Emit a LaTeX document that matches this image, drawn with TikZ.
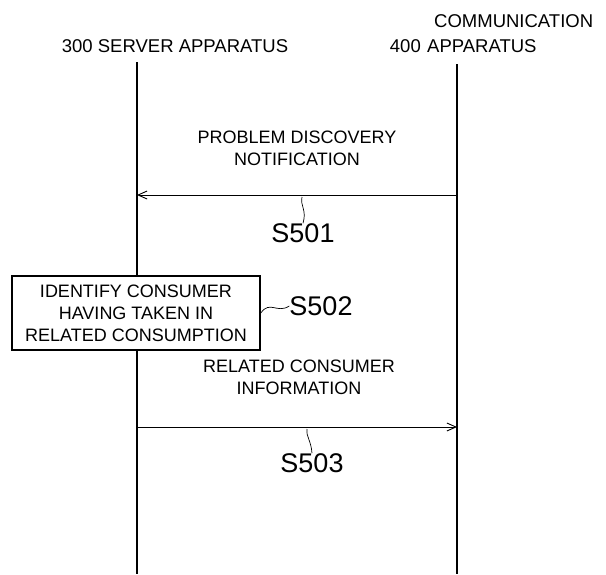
\documentclass[tikz,border=0pt]{standalone}
\usepackage{fontspec}
\setmainfont{Liberation Sans}
\usetikzlibrary{arrows.meta}
\begin{document}
\begin{tikzpicture}[x=1pt,y=-1pt,
  lbl/.style={font=\fontsize{18}{22}\selectfont, inner sep=0pt, align=center},
  hdr/.style={font=\fontsize{18.5}{22}\selectfont, inner sep=0pt},
  steplbl/.style={font=\fontsize{27}{30}\selectfont, inner sep=0pt},
  lifeline/.style={line width=1.8pt},
  msg/.style={line width=0.9pt, -{Straight Barb[length=9pt,width=8pt,line width=0.9pt]}},
  leader/.style={line width=0.7pt},
  procbox/.style={draw, line width=1.6pt, fill=white, lbl, minimum width=248pt, minimum height=74pt}]
\useasboundingbox (0,0) rectangle (606,574);

% column headers
\node[hdr, anchor=base] (srv) at (175,52) {300 SERVER APPARATUS};
\node[hdr, anchor=base east] (n400) at (421,52) {400};
\node[hdr, anchor=base west] (comm2) at (427,52) {APPARATUS};
\node[hdr, anchor=base west] (comm1) at (434,27) {COMMUNICATION};

% lifelines
\coordinate (s-top) at (137,62);
\coordinate (s-bot) at (137,574);
\coordinate (c-top) at (457,64);
\coordinate (c-bot) at (457,574);
\draw[lifeline] (s-top) -- (s-bot);
\draw[lifeline] (c-top) -- (c-bot);

% S501: problem discovery notification
\coordinate (a1s) at (457,195);
\coordinate (a1e) at (137,195);
\draw[msg] (a1s) -- (a1e);
\node[lbl, anchor=base] (m1) at (297,165) {PROBLEM DISCOVERY\\NOTIFICATION};
\node[steplbl] (s501) at (303,233) {S501};
\coordinate (l1) at (302,197);
\draw[leader] (l1) .. controls (300,206) and (307,210) .. (s501.north);

% S502: identification process
\node[procbox] (box) at (136,313) {IDENTIFY CONSUMER\\HAVING TAKEN IN\\RELATED CONSUMPTION};
\node[steplbl] (s502) at (321,306) {S502};
\draw[leader] (box.east) .. controls (270,300) and (277,314) .. (s502.west);

% S503: related consumer information
\coordinate (a3s) at (137,427);
\coordinate (a3e) at (457,427);
\draw[msg] (a3s) -- (a3e);
\node[lbl, anchor=base] (m3) at (299,394) {RELATED CONSUMER\\INFORMATION};
\node[steplbl] (s503) at (312,463) {S503};
\coordinate (l3) at (307,429);
\draw[leader] (l3) .. controls (306,437) and (311,440) .. (s503.north);
\end{tikzpicture}
\end{document}
